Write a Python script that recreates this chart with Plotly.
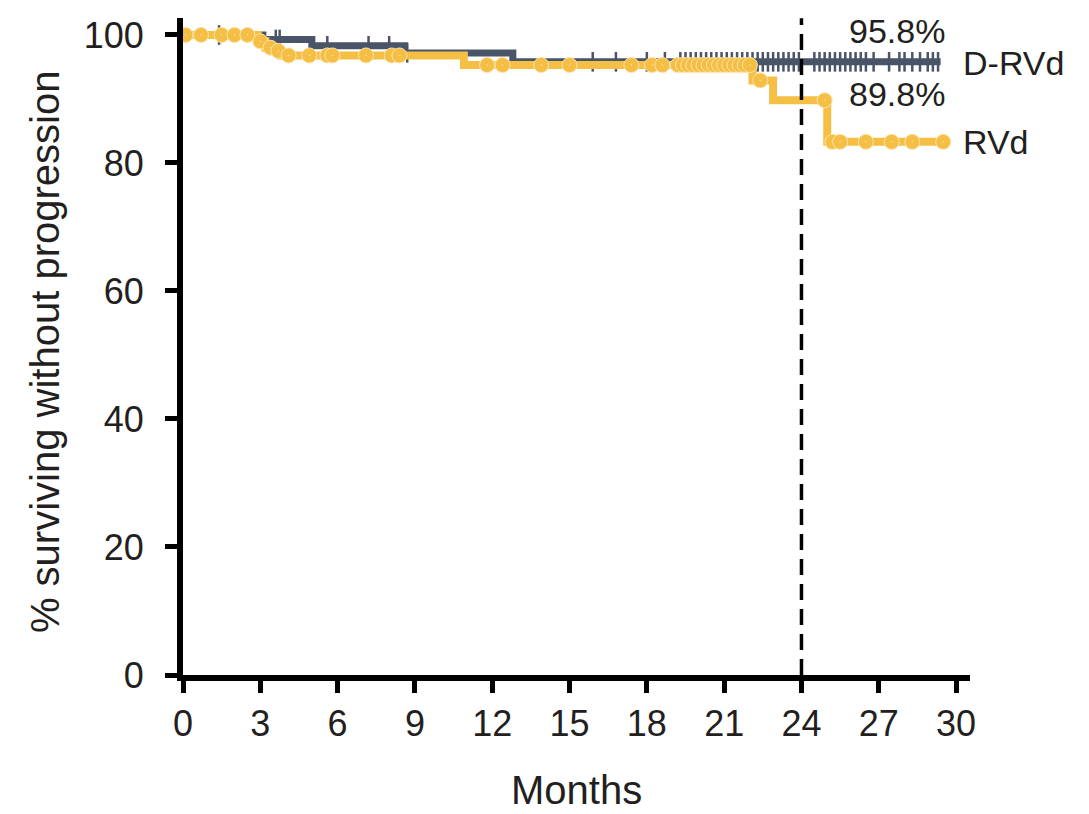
import numpy as np
import plotly.graph_objects as go

# ---- data ----
drvd_times = [0, 3.1, 5.0, 8.6, 12.8, 29.4]
drvd_surv = [100, 99.3, 98.3, 97.2, 95.8, 95.8]
drvd_censor = [1.4, 3.6, 3.75, 5.6, 7.2, 8.0, 8.7, 15.9, 16.8, 18.0, 18.7,
               19.3, 19.5, 19.7, 19.9, 20.1, 20.3, 20.5, 20.7, 20.9, 21.1, 21.3,
               21.5, 21.7, 21.9, 22.1, 22.3, 22.5, 22.7, 22.9, 23.1, 23.3, 23.5,
               23.7, 23.9, 24.5, 24.7, 24.9, 25.1, 25.3, 25.5, 25.7, 25.9, 26.1,
               26.3, 26.5, 26.8, 27.4, 27.8, 28.0, 28.3, 28.6, 28.9, 29.1, 29.3]

rvd_times = [0, 2.9, 3.2, 3.5, 3.8, 10.9, 22.1, 22.9, 25.0, 29.6]
rvd_surv = [100, 99.0, 98.0, 97.5, 96.8, 95.3, 92.9, 89.8, 83.3, 83.3]
rvd_censor = [0.1, 0.7, 1.5, 2.0, 2.5, 3.0, 3.4, 3.7, 4.1, 4.9, 5.6, 5.8, 7.1,
              8.1, 8.4, 11.8, 12.4, 13.9, 15.0, 17.4, 18.2, 18.6, 19.2, 19.4,
              19.6, 19.8, 20.0, 20.2, 20.4, 20.6, 20.8, 21.0, 21.2, 21.4, 21.6,
              21.8, 22.0, 22.4, 24.9, 25.2, 25.5, 26.5, 27.5, 28.3, 29.5]

x_ticks = [0, 3, 6, 9, 12, 15, 18, 21, 24, 27, 30]
y_ticks = [0, 20, 40, 60, 80, 100]

DARK = "#4a5468"
YELLOW = "#f5bf45"
TXT = "#231f20"


def step_value(times, surv, t):
    idx = np.searchsorted(np.array(times), t, side="right") - 1
    return [surv[i] for i in idx]


fig = go.Figure()

# D-RVd curve
fig.add_trace(go.Scatter(x=drvd_times, y=drvd_surv, mode="lines",
                         line=dict(color=DARK, width=7, shape="hv"),
                         cliponaxis=False, showlegend=False))
fig.add_trace(go.Scatter(x=drvd_censor, y=step_value(drvd_times, drvd_surv, drvd_censor),
                         mode="markers",
                         marker=dict(symbol="line-ns", size=14, color=DARK,
                                     line=dict(color=DARK, width=2.5)),
                         cliponaxis=False, showlegend=False))

# RVd curve
fig.add_trace(go.Scatter(x=rvd_times, y=rvd_surv, mode="lines",
                         line=dict(color=YELLOW, width=8, shape="hv"),
                         cliponaxis=False, showlegend=False))
fig.add_trace(go.Scatter(x=rvd_censor, y=step_value(rvd_times, rvd_surv, rvd_censor),
                         mode="markers",
                         marker=dict(symbol="circle-dot", size=15, color=YELLOW,
                                     line=dict(color="#fbe3a8", width=1)),
                         cliponaxis=False, showlegend=False))

# dashed landmark at 24 months
fig.add_shape(type="line", x0=24, x1=24, y0=0, y1=102.6, xref="x", yref="y",
              line=dict(color="black", width=3.5, dash="16px,9px"))

# end labels
fig.add_annotation(x=27.7, y=100.6, xref="x", yref="y", text="95.8%",
                   showarrow=False, font=dict(size=34, color=TXT))
fig.add_annotation(x=30.2, y=95.6, xref="x", yref="y", text="D-RVd",
                   showarrow=False, xanchor="left", font=dict(size=34, color=TXT))
fig.add_annotation(x=27.7, y=90.8, xref="x", yref="y", text="89.8%",
                   showarrow=False, font=dict(size=34, color=TXT))
fig.add_annotation(x=30.2, y=83.3, xref="x", yref="y", text="RVd",
                   showarrow=False, xanchor="left", font=dict(size=34, color=TXT))

# axis titles
TITLE_FONT = dict(family="Liberation Sans, Arial, sans-serif", size=40, color=TXT)
fig.add_annotation(x=0.4994, y=-0.175, xref="paper", yref="paper", text="Months",
                   showarrow=False, xanchor="center", yanchor="middle", font=TITLE_FONT)
fig.add_annotation(x=-0.1753, y=0.4916, xref="paper", yref="paper",
                   text="% surviving without progression", textangle=-90,
                   showarrow=False, xanchor="center", yanchor="middle", font=TITLE_FONT)

fig.update_xaxes(range=[0, 30.54], tickvals=x_ticks, ticktext=[str(v) for v in x_ticks],
                 showline=True, linecolor="black", linewidth=6,
                 ticks="outside", ticklen=12, tickwidth=5, tickcolor="black",
                 showgrid=False, zeroline=False, ticklabelstandoff=0,
                 tickfont=dict(family="Liberation Sans, Arial, sans-serif", size=36, color=TXT))
fig.update_yaxes(range=[0, 102.65], tickvals=y_ticks, ticktext=[str(v) for v in y_ticks],
                 showline=True, linecolor="black", linewidth=6,
                 ticks="outside", ticklen=12, tickwidth=5, tickcolor="black",
                 showgrid=False, zeroline=False, ticklabelstandoff=14,
                 tickfont=dict(family="Liberation Sans, Arial, sans-serif", size=36, color=TXT))

fig.update_layout(width=1089, height=814, margin=dict(l=183, r=119, t=18, b=139),
                  plot_bgcolor="white", paper_bgcolor="white",
                  font=dict(family="Liberation Sans, Arial, sans-serif", color=TXT))

fig.write_html("out.html")
